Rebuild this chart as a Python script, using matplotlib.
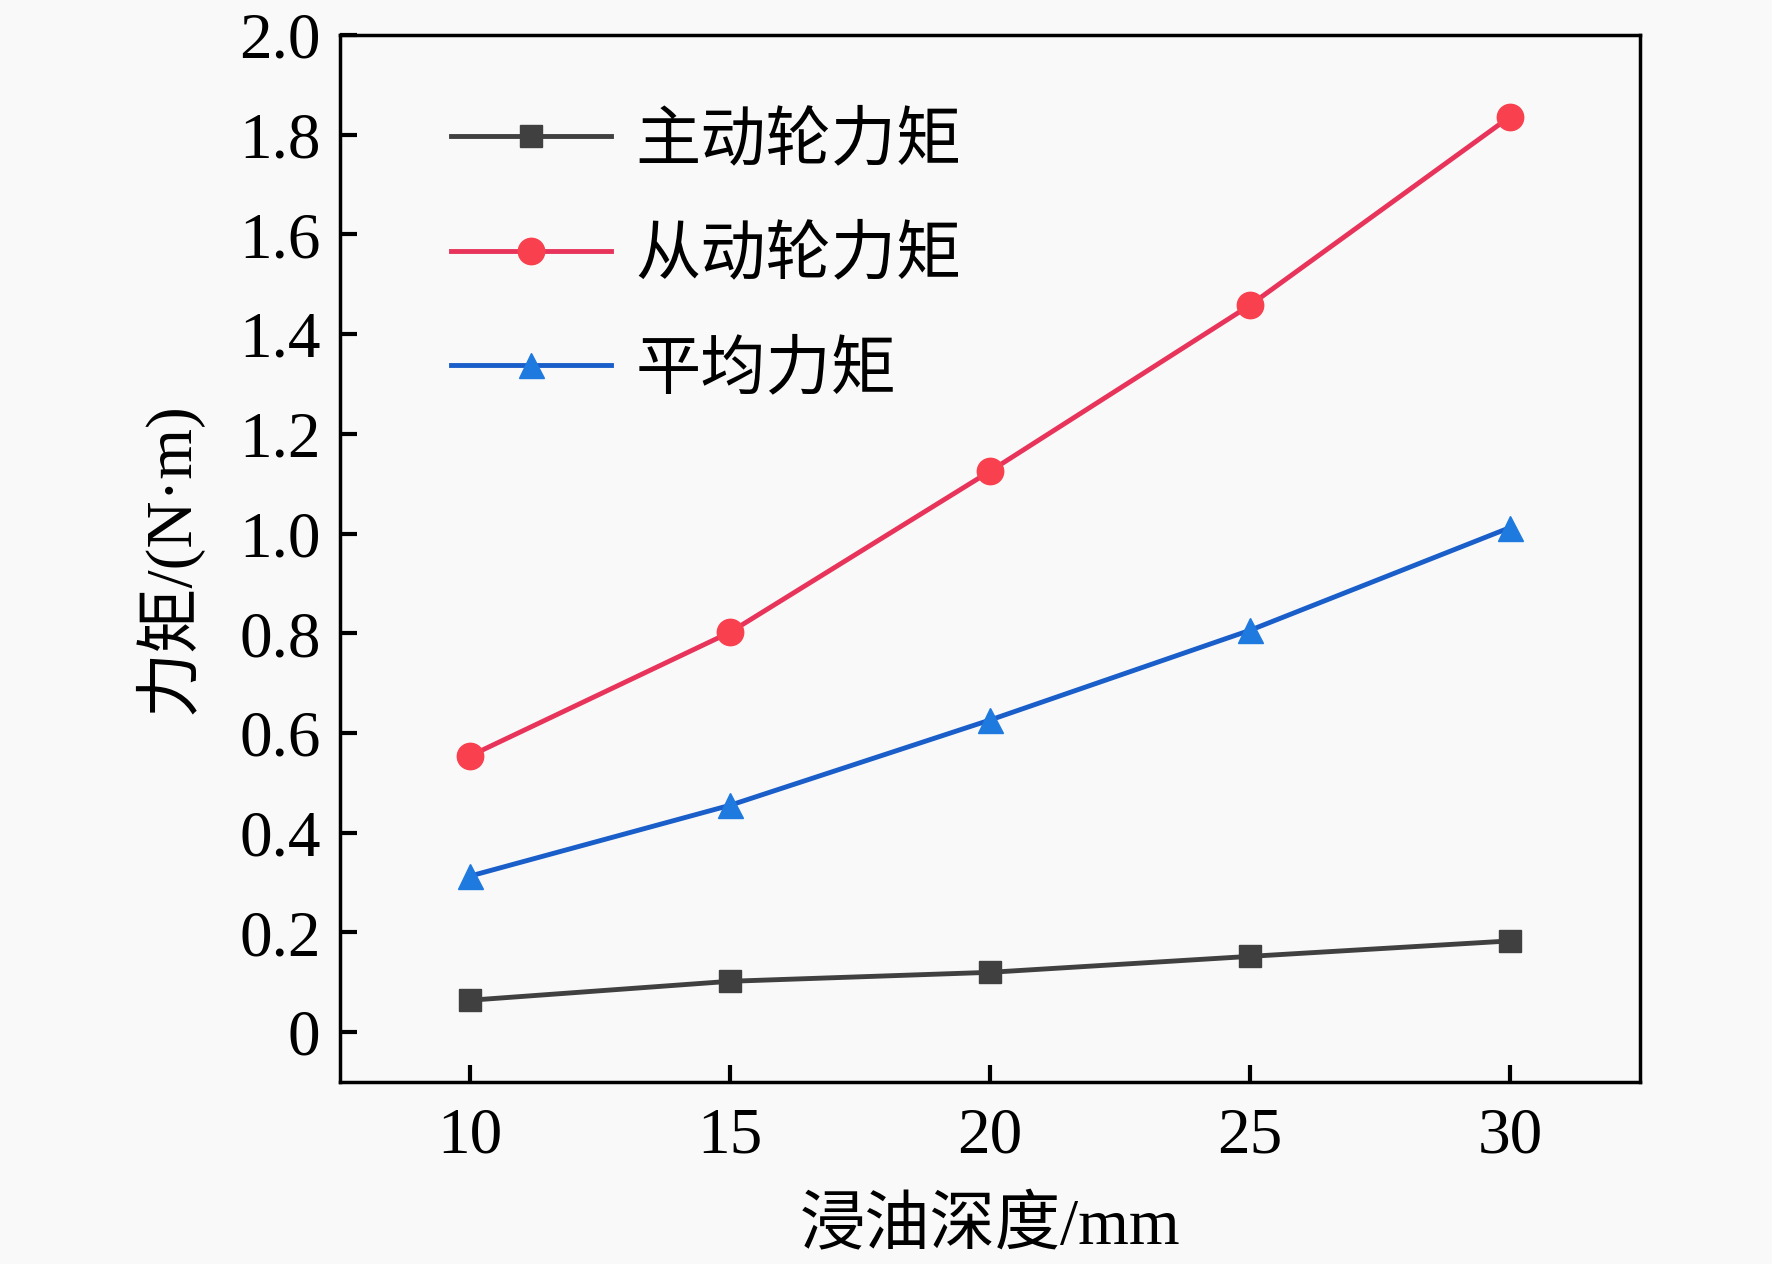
import matplotlib
matplotlib.use("Agg")
import matplotlib.pyplot as plt

# 数据
depth = [10, 15, 20, 25, 30]
driving = [0.064, 0.102, 0.120, 0.152, 0.183]
driven = [0.554, 0.802, 1.125, 1.458, 1.836]
average = [0.313, 0.455, 0.626, 0.806, 1.012]
labels = ['主动轮力矩', '从动轮力矩', '平均力矩']
xticks = [10, 15, 20, 25, 30]
yticks = [0, 0.2, 0.4, 0.6, 0.8, 1.0, 1.2, 1.4, 1.6, 1.8, 2.0]
yticklabels = ['0', '0.2', '0.4', '0.6', '0.8', '1.0', '1.2', '1.4', '1.6', '1.8', '2.0']

fonts = ['Liberation Serif', 'Noto Sans CJK SC', 'DejaVu Sans']
plt.rcParams['font.family'] = fonts

bg = '#f9f9f9'
fig = plt.figure(figsize=(17.72, 12.64), dpi=100, facecolor=bg)
ax = fig.add_axes([340 / 1772, 1 - 1082 / 1264, 1300 / 1772, 1047 / 1264])
ax.set_facecolor(bg)

ax.plot(depth, driving, '-s', color='#404040', lw=3.5, ms=16,
        label=labels[0])
ax.plot(depth, driven, '-o', color='#e8345a', mfc='#f9404f', mec='#f9404f',
        lw=3.5, ms=19, label=labels[1])
ax.plot(depth, average, '-^', color='#1a5ec9', mfc='#1f7ae0', mec='#1f7ae0',
        lw=3.5, ms=18, label=labels[2])

ax.set_xlim(7.5, 32.5)
ax.set_ylim(-0.1, 2.0)
ax.set_xticks(xticks)
ax.set_yticks(yticks)
ax.set_yticklabels(yticklabels)
ax.tick_params(direction='in', length=12, width=3, labelsize=47, pad=18)
ax.tick_params(axis='y', pad=14)
for s in ax.spines.values():
    s.set_linewidth(2.5)

ax.set_xlabel('浸油深度/mm', fontsize=47, labelpad=22)
ax.set_ylabel('力矩/(N·m)', fontsize=47, labelpad=26)

leg = ax.legend(loc='upper left', bbox_to_anchor=(0.065, 0.951), frameon=False,
                fontsize=47, handlelength=2.45, handletextpad=0.38,
                labelspacing=0.82, borderaxespad=0)

fig.savefig('out.png', dpi=100, facecolor=bg)
